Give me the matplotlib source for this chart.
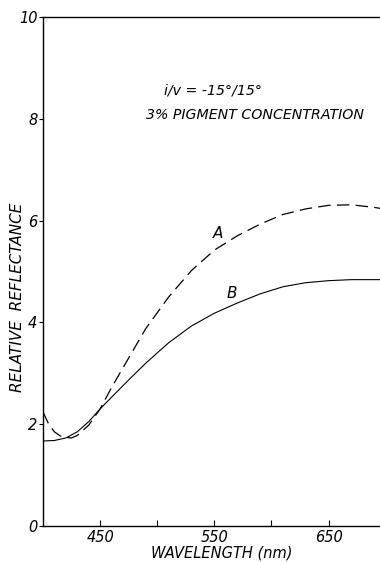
import matplotlib
matplotlib.use("Agg")
import matplotlib.pyplot as plt

# Data
wl_a = [400, 405, 410, 415, 420, 425, 430, 440, 450, 460, 475, 490, 510, 530,
        550, 570, 590, 610, 630, 650, 670, 690, 695]
refl_a = [2.24, 2.0, 1.85, 1.77, 1.74, 1.73, 1.78, 1.98, 2.3, 2.72, 3.3, 3.88,
          4.5, 5.02, 5.42, 5.7, 5.93, 6.12, 6.23, 6.3, 6.31, 6.26, 6.24]

wl_b = [400, 410, 420, 430, 440, 450, 460, 475, 490, 510, 530, 550, 570, 590,
        610, 630, 650, 670, 695]
refl_b = [1.67, 1.68, 1.73, 1.85, 2.05, 2.3, 2.53, 2.87, 3.2, 3.6, 3.93, 4.18,
          4.38, 4.56, 4.7, 4.78, 4.82, 4.84, 4.84]

major_x = [450, 550, 650]
minor_x = [500, 600]
y_ticks = [0, 2, 4, 6, 8, 10]

plt.rcParams['font.family'] = ['DejaVu Sans']
fs = 10.5

fig = plt.figure(figsize=(3.8, 5.62), dpi=100)
ax = fig.add_axes([43/380, 1-526/562, 1-43/380, (526-17)/562])

ax.plot(wl_a, refl_a, color='black', lw=0.9, linestyle=(0, (10, 5)))
ax.plot(wl_b, refl_b, color='black', lw=0.8)

ax.set_xlim(400, 695)
ax.set_ylim(0, 10)
ax.spines['right'].set_visible(False)
for s in ['left', 'top', 'bottom']:
    ax.spines[s].set_linewidth(1.0)

ax.set_xticks(major_x)
ax.set_xticks(minor_x, minor=True)
ax.set_xticklabels([str(v) for v in major_x], fontsize=fs, style='italic')
ax.tick_params(axis='x', which='both', direction='in', length=4, width=0.8, pad=3)
ax.set_yticks(y_ticks)
ax.set_yticklabels([str(v) for v in y_ticks], fontsize=fs, style='italic')
ax.tick_params(axis='y', direction='out', length=3, width=0.8, pad=1)

ax.text(553, 5.75, 'A', fontsize=fs+0.5, style='italic', ha='center', va='center')
ax.text(565, 4.57, 'B', fontsize=fs+0.5, style='italic', ha='center', va='center')

fig.text(164/380, 1-90/562, 'i/v = -15°/15°', fontsize=10.2, style='italic',
         ha='left', va='center')
fig.text(146/380, 1-115/562, '3% PIGMENT CONCENTRATION', fontsize=10.2,
         style='italic', ha='left', va='center')
fig.text(18/380, 1-297/562, 'RELATIVE  REFLECTANCE', fontsize=11, style='italic',
         rotation=90, ha='center', va='center')
fig.text(222/380, 1-553/562, 'WAVELENGTH (nm)', fontsize=fs, style='italic',
         ha='center', va='center')

fig.savefig('out.png', dpi=100)
